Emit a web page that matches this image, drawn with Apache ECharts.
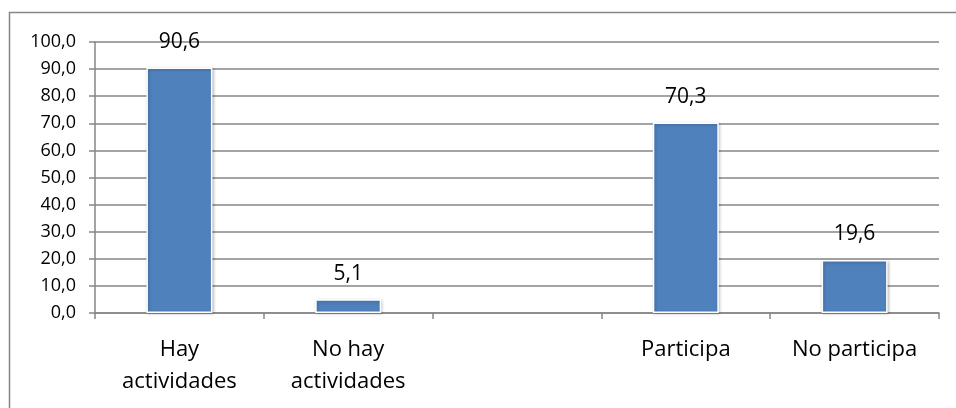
<!DOCTYPE html>
<html>
<head>
<meta charset="utf-8">
<script src="https://cdn.jsdelivr.net/npm/echarts@6/dist/echarts.min.js"></script>
<style>
  html, body { margin: 0; padding: 0; background: #fff; }
  #chart { width: 956px; height: 408px; }
</style>
</head>
<body>
<div id="chart"></div>
<script>
// Categories (the empty one is the gap between the two groups)
const categories = ['Hay\nactividades', 'No hay\nactividades', '', 'Participa', 'No participa'];
const values = [90.6, 5.1, null, 70.3, 19.6];
const yTicks = { min: 0, max: 100, interval: 10 };

const GREY = '#868686';
const FONT = '"Open Sans", "Noto Sans", sans-serif';
const fmt = (v) => Number(v).toFixed(1).replace('.', ',');

const chart = echarts.init(document.getElementById('chart'), null, { renderer: 'canvas' });
chart.setOption({
  animation: false,
  backgroundColor: '#fff',
  textStyle: { fontFamily: FONT, color: '#000' },
  graphic: [{
    type: 'rect',
    shape: { x: 9.5, y: 12.5, width: 1000, height: 500 },
    style: { fill: 'none', stroke: GREY, lineWidth: 1.5 },
    silent: true,
  }],
  grid: { left: 95, right: 17, top: 42, bottom: 95, containLabel: false },
  xAxis: {
    type: 'category',
    data: categories,
    axisLine: { lineStyle: { color: GREY, width: 1.5 } },
    axisTick: { show: true, length: 6, lineStyle: { color: GREY, width: 1.5 } },
    axisLabel: { color: '#000', fontSize: 22, lineHeight: 32, margin: 21, interval: 0, fontFamily: FONT },
    splitLine: { show: false },
  },
  yAxis: {
    type: 'value',
    min: yTicks.min,
    max: yTicks.max,
    interval: yTicks.interval,
    axisLine: { show: true, lineStyle: { color: GREY, width: 1.5 } },
    axisTick: { show: true, length: 6, lineStyle: { color: GREY, width: 1.5 } },
    axisLabel: { color: '#000', fontSize: 18, margin: 19, formatter: fmt, fontFamily: FONT },
    splitLine: { lineStyle: { color: GREY, width: 1.5 } },
  },
  series: [{
    type: 'bar',
    data: values,
    barWidth: 66,
    itemStyle: {
      color: '#4F81BD',
      borderColor: '#fff',
      borderWidth: 1.5,
      shadowColor: 'rgba(0,0,0,0.25)',
      shadowBlur: 3,
      shadowOffsetX: 1,
      shadowOffsetY: 1,
    },
    label: {
      show: true,
      position: 'top',
      distance: 15,
      color: '#000',
      fontSize: 21,
      fontFamily: FONT,
      formatter: (p) => fmt(p.value),
    },
  }],
});
</script>
</body>
</html>
